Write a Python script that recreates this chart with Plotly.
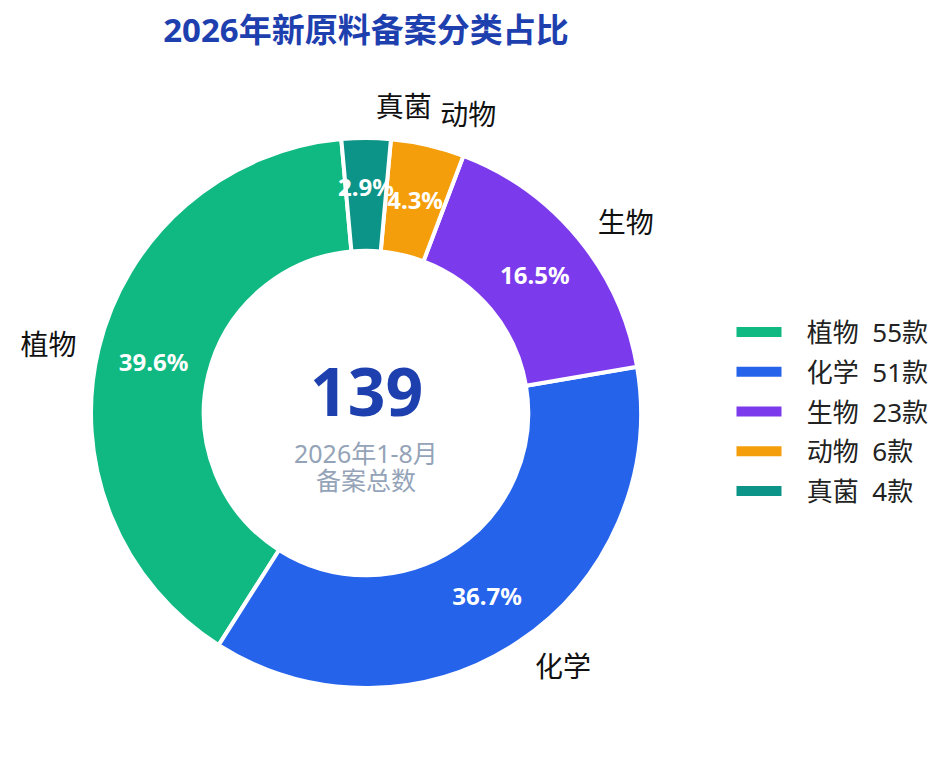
import math
import plotly.graph_objects as go

# ---- data ----
categories = ["植物", "化学", "生物", "动物", "真菌"]
counts = [55, 51, 23, 6, 4]
colors = ["#10B981", "#2563EB", "#7C3AED", "#F59E0B", "#0D9488"]
unit = "款"
title_text = "2026年新原料备案分类占比"
center_value = "139"
center_lines = ["2026年1-8月", "备案总数"]

FONT = "Noto Sans, Noto Sans CJK SC, sans-serif"
W, H = 950, 775
ML, MR, MT, MB = 33, 267, 80, 30
PW, PH = W - ML - MR, H - MT - MB
CX, CY = 358, 405           # pie centre (plot coordinates)
R_RING, HOLE = 275, 0.59
R_LABEL = 288               # radius at which outside names sit
R_TEXT = R_RING * (1 + HOLE) / 2   # mid-ring radius for percentages
ROT = 212.4
SMALL = 0.05                # slices thinner than this get their own text ring


def dom(r):
    return dict(
        x=[(CX - r - ML) / PW, (CX + r - ML) / PW],
        y=[(H - MB - (CY + r)) / PH, (H - MB - (CY - r)) / PH],
    )


def py(ypix):
    return (H - MB - ypix) / PH


total = sum(counts)
n = len(categories)
clear = ["rgba(0,0,0,0)"] * n
pct_font = dict(family=FONT, size=24, color="white", weight="bold")

common = dict(labels=categories, values=counts, sort=False,
              direction="counterclockwise", rotation=ROT, showlegend=False)

fig = go.Figure()

# main donut, percentages of the larger slices inside
fig.add_trace(go.Pie(
    **common, hole=HOLE, domain=dom(R_RING),
    marker=dict(colors=colors, line=dict(color="white", width=4)),
    texttemplate=["%{percent:.1%}" if v / total >= SMALL else "" for v in counts],
    textposition="inside", insidetextorientation="horizontal",
    textfont=pct_font, hoverinfo="label+value+percent",
))

# thin slices: percentage placed on the ring's middle circle
for i, v in enumerate(counts):
    if v / total >= SMALL:
        continue
    half = math.pi * v / total
    r = R_TEXT * (1 + math.sin(half))
    fig.add_trace(go.Pie(
        **common, hole=0, domain=dom(r),
        marker=dict(colors=clear, line=dict(width=0)),
        texttemplate=["%{percent:.1%}" if j == i else "" for j in range(n)],
        textposition="inside", insidetextorientation="horizontal",
        textfont=pct_font, hoverinfo="skip",
    ))

# transparent rings carrying the outside category names
groups = [[j for j in range(n) if j != n - 1], [n - 1]]
for g in groups:
    fig.add_trace(go.Pie(
        **common, hole=0.95, domain=dom(R_LABEL),
        marker=dict(colors=clear, line=dict(width=0)),
        texttemplate=["%{label}" if j in g else "" for j in range(n)],
        textposition="outside",
        outsidetextfont=dict(family=FONT, size=28, color="#111111"),
        hoverinfo="skip",
    ))

# legend entries (wide bar symbols)
for c, v, col in zip(categories, counts, colors):
    fig.add_trace(go.Scatter(
        x=[None], y=[None], mode="lines",
        line=dict(color=col, width=12),
        name=f"\u00a0\u00a0\u00a0{c}\u00a0\u00a0{v}{unit}",
        legendgroup=c,
    ))

fig.add_annotation(text=f"<b>{center_value}</b>", x=0.5, y=py(382),
                   xref="paper", yref="paper", showarrow=False, yanchor="middle",
                   font=dict(family=FONT, size=66, color="#1E40AF"))
fig.add_annotation(text=center_lines[0], x=0.5, y=py(445),
                   xref="paper", yref="paper", showarrow=False, yanchor="middle",
                   font=dict(family=FONT, size=25, color="#94A3B8"))
fig.add_annotation(text=center_lines[1], x=0.5, y=py(472),
                   xref="paper", yref="paper", showarrow=False, yanchor="middle",
                   font=dict(family=FONT, size=25, color="#94A3B8"))

fig.update_layout(
    width=W, height=H,
    margin=dict(l=ML, r=MR, t=MT, b=MB),
    paper_bgcolor="white", plot_bgcolor="white",
    title=dict(text=f"<b>{title_text}</b>", x=0.5, xref="paper", xanchor="center",
               y=1 - 22 / H, yref="container", yanchor="middle",
               font=dict(family=FONT, size=33, color="#1E40AF")),
    xaxis=dict(visible=False), yaxis=dict(visible=False),
    uniformtext=dict(minsize=24, mode="show"),
    legend=dict(x=(723.5 - ML) / PW, xanchor="left", y=py(404), yanchor="middle",
                font=dict(family=FONT, size=26, color="#222222"),
                itemwidth=45, tracegroupgap=3, bgcolor="rgba(0,0,0,0)"),
    font=dict(family=FONT),
)

fig.write_html("out.html")
